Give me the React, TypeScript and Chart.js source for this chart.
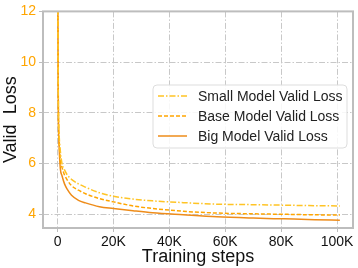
import React, { useEffect, useRef } from "react";
import { Chart, registerables } from "chart.js";

Chart.register(...registerables);

const steps = [100, 300, 600, 1000, 1600, 2500, 3500, 5000, 7500, 10000, 15000, 20000, 27000, 34000, 45000, 57000, 70000, 81000, 92000, 101000];
const smallLoss = [13, 8.5, 7.1, 6.5, 6.0, 5.75, 5.55, 5.38, 5.2, 5.07, 4.85, 4.71, 4.6, 4.53, 4.46, 4.4, 4.38, 4.36, 4.34, 4.33];
const baseLoss = [13, 8.2, 6.9, 6.1, 5.85, 5.55, 5.35, 5.13, 4.95, 4.81, 4.62, 4.49, 4.33, 4.23, 4.12, 4.05, 4.02, 4.0, 3.98, 3.97];
const bigLoss = [13, 8.0, 6.6, 5.8, 5.52, 5.2, 4.98, 4.75, 4.55, 4.45, 4.3, 4.23, 4.14, 4.06, 3.98, 3.9, 3.85, 3.82, 3.79, 3.77];
const seriesNames = ["Small Model Valid Loss", "Base Model Valid Loss", "Big Model Valid Loss"];
const xTicks = [0, 20000, 40000, 60000, 80000, 100000];
const xTickLabels = ["0", "20K", "40K", "60K", "80K", "100K"];
const yTicks = [4, 6, 8, 10, 12];

const FONT = "'Liberation Sans', Arial, sans-serif";
const colors = ["#FFC425", "#FFA500", "#EE8C1A"];
const dashes: number[][] = [[6, 2, 1.5, 2], [4, 2], []];

export default function App() {
  const ref = useRef<HTMLCanvasElement>(null);
  useEffect(() => {
    const canvas = ref.current!;
    const frame = {
      id: "frame",
      afterDraw(chart: any) {
        const { ctx, chartArea: a } = chart;
        ctx.save();
        ctx.strokeStyle = "#bdbdbd";
        ctx.lineWidth = 2;
        ctx.strokeRect(a.left, a.top, a.right - a.left, a.bottom - a.top);
        // legend
        const lx = 153, ly = 85, lw = 194, lh = 63;
        ctx.beginPath();
        const r = 4;
        ctx.moveTo(lx + r, ly);
        ctx.arcTo(lx + lw, ly, lx + lw, ly + lh, r);
        ctx.arcTo(lx + lw, ly + lh, lx, ly + lh, r);
        ctx.arcTo(lx, ly + lh, lx, ly, r);
        ctx.arcTo(lx, ly, lx + lw, ly, r);
        ctx.closePath();
        ctx.fillStyle = "rgba(255,255,255,0.85)";
        ctx.fill();
        ctx.strokeStyle = "#dddddd";
        ctx.lineWidth = 1;
        ctx.stroke();
        ctx.font = `14px ${FONT}`;
        ctx.textBaseline = "middle";
        seriesNames.forEach((name, i) => {
          const y = 96 + i * 20;
          ctx.beginPath();
          ctx.setLineDash(dashes[i]);
          ctx.strokeStyle = colors[i];
          ctx.lineWidth = 1.5;
          ctx.moveTo(158, y);
          ctx.lineTo(187, y);
          ctx.stroke();
          ctx.setLineDash([]);
          ctx.fillStyle = "#222";
          ctx.fillText(name, 198, y + 1);
        });
        ctx.restore();
      },
    };
    const mk = (vals: number[], i: number) => ({
      label: seriesNames[i],
      data: steps.map((s, k) => ({ x: s, y: vals[k] })),
      borderColor: colors[i],
      borderWidth: 1.5,
      borderDash: dashes[i],
      pointRadius: 0,
      tension: 0.35,
      cubicInterpolationMode: "monotone" as const,
      fill: false,
    });
    const chart = new Chart(canvas, {
      type: "line",
      data: { datasets: [mk(smallLoss, 0), mk(baseLoss, 1), mk(bigLoss, 2)] },
      options: {
        animation: false,
        responsive: false,
        layout: { padding: { top: 5, right: 5, left: 0, bottom: 0 } },
        plugins: { legend: { display: false }, tooltip: { enabled: false } },
        scales: {
          x: {
            type: "linear",
            min: -5200,
            max: 105700,
            afterBuildTicks: (ax: any) => { ax.ticks = xTicks.map((v) => ({ value: v })); },
            afterFit: (ax: any) => { ax.height = 40; },
            ticks: {
              color: "#111",
              font: { family: FONT, size: 14 },
              padding: 2,
              maxRotation: 0,
              callback: (v: any) => xTickLabels[xTicks.indexOf(Number(v))] ?? "",
            },
            grid: { color: "#c8c8c8", lineWidth: 1, tickLength: 4, tickColor: "#bdbdbd", tickBorderDash: [] } as any,
            border: { display: false, dash: [6, 2, 1.5, 2] },
            title: { display: true, text: "Training steps", color: "#111", font: { family: FONT, size: 18 }, padding: { top: 0, bottom: 0 } },
          },
          y: {
            type: "linear",
            min: 3.46,
            max: 12,
            afterBuildTicks: (ax: any) => { ax.ticks = yTicks.map((v) => ({ value: v })); },
            afterFit: (ax: any) => { ax.width = 43; },
            ticks: { color: "#FFA500", font: { family: FONT, size: 14 }, padding: 3 },
            grid: { color: "#c8c8c8", lineWidth: 1, tickLength: 4, tickColor: "#bdbdbd", tickBorderDash: [] } as any,
            border: { display: false, dash: [6, 2, 1.5, 2] },
            title: { display: true, text: "Valid  Loss", color: "#111", font: { family: FONT, size: 18 }, padding: { top: 0, bottom: 2 } },
          },
        },
      },
      plugins: [frame],
    });
    return () => chart.destroy();
  }, []);
  return (
    <div style={{ position: "fixed", left: 0, top: 0, width: 358, height: 268, background: "#fff" }}>
      <canvas ref={ref} width={358} height={268} style={{ width: 358, height: 268 }} />
    </div>
  );
}
